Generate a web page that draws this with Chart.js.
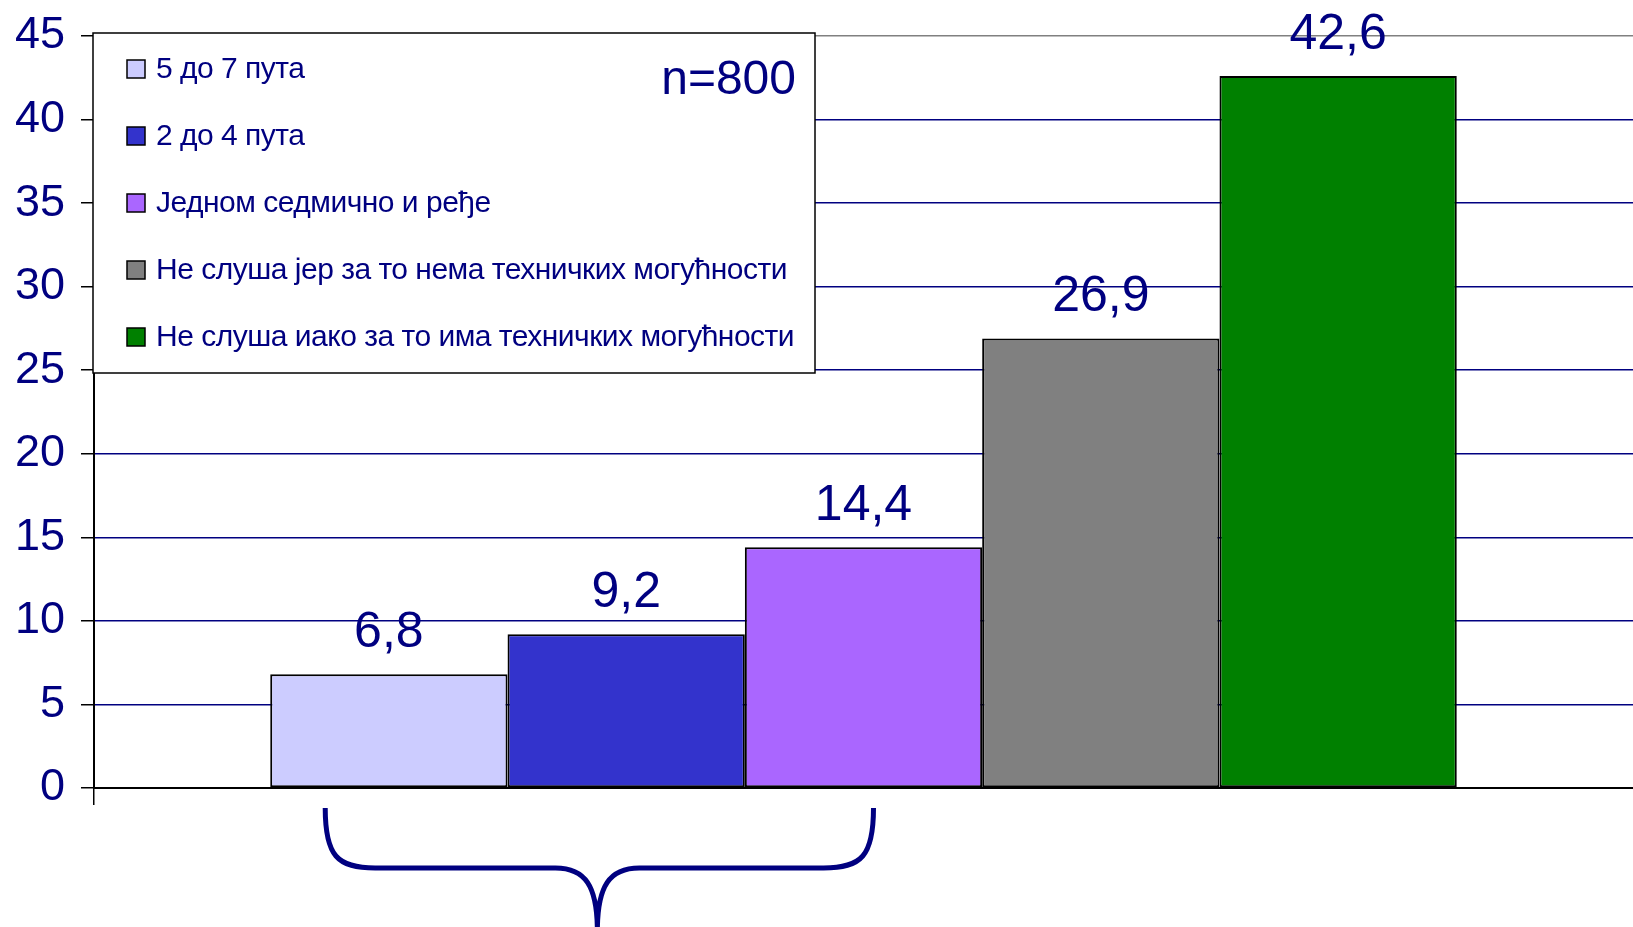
<!DOCTYPE html>
<html>
<head>
<meta charset="utf-8">
<script src="https://cdn.jsdelivr.net/npm/chart.js@4/dist/chart.umd.min.js"></script>
<style>
  html, body { margin: 0; padding: 0; background: #fff; }
  #wrap { width: 1633px; height: 927px; position: relative; }
</style>
</head>
<body>
<div id="wrap"><canvas id="chart"></canvas></div>
<script>
const categories = [""];
const seriesNames = [
  "5 до 7 пута",
  "2 до 4 пута",
  "Једном седмично и ређе",
  "Не слуша јер за то нема техничких могућности",
  "Не слуша иако за то има техничких могућности"
];
const seriesValues = [6.8, 9.2, 14.4, 26.9, 42.6];
const seriesColors = ["#ccccff", "#3333cc", "#aa66ff", "#808080", "#008000"];
const yMin = 0;
const yMax = 45;
const yStep = 5;
const sampleNote = "n=800";

const NAVY = "#000080";
const FONT = "'Liberation Sans', Arial, sans-serif";

// legend box drawn inside the plot, over the grid
const legendBox = {
  id: "legendBox",
  afterDatasetsDraw(chart) {
    const ctx = chart.ctx;
    const left = chart.chartArea.left - 1;
    const top = chart.chartArea.top - 3;
    ctx.save();
    ctx.fillStyle = "#fff";
    ctx.fillRect(left, top, 722, 340);
    ctx.strokeStyle = "#000";
    ctx.lineWidth = 1.5;
    ctx.strokeRect(left, top, 722, 340);

    ctx.font = "30px " + FONT;
    ctx.letterSpacing = "-0.5px";
    ctx.textBaseline = "middle";
    ctx.textAlign = "left";
    chart.data.datasets.forEach((ds, i) => {
      const cy = top + 36 + i * 67;
      ctx.fillStyle = ds.backgroundColor;
      ctx.fillRect(left + 34, cy - 9, 18, 18);
      ctx.strokeStyle = "#000";
      ctx.lineWidth = 1.5;
      ctx.strokeRect(left + 34, cy - 9, 18, 18);
      ctx.fillStyle = NAVY;
      ctx.fillText(ds.label, left + 63, cy + 1);
    });

    ctx.font = "48px " + FONT;
    ctx.letterSpacing = "0px";
    ctx.textAlign = "right";
    ctx.textBaseline = "alphabetic";
    ctx.fillText(sampleNote, left + 703, top + 61);
    ctx.restore();
  }
};

// value above each bar
const valueLabels = {
  id: "valueLabels",
  afterDatasetsDraw(chart) {
    const ctx = chart.ctx;
    ctx.save();
    ctx.font = "50px " + FONT;
    ctx.fillStyle = NAVY;
    ctx.textAlign = "center";
    ctx.textBaseline = "alphabetic";
    chart.data.datasets.forEach((ds, i) => {
      const bar = chart.getDatasetMeta(i).data[0];
      ctx.fillText(String(ds.data[0]).replace(".", ","), bar.x, bar.y - 27);
    });
    ctx.restore();
  }
};

// curly brace under the first three bars
const brace = {
  id: "brace",
  afterDraw(chart) {
    const first = chart.getDatasetMeta(0).data[0];
    const third = chart.getDatasetMeta(2).data[0];
    const L = first.x - first.width / 2 + 55;
    const R = third.x + 10;
    const C = (L + R) / 2 - 2;
    const top = chart.chartArea.bottom + 20;
    const H = top + 60;
    const bottom = chart.height + 4;
    const ctx = chart.ctx;
    ctx.save();
    ctx.strokeStyle = NAVY;
    ctx.lineWidth = 5;
    ctx.beginPath();
    ctx.moveTo(L, top);
    ctx.bezierCurveTo(L, top + 48, L + 12, H, L + 50, H);
    ctx.lineTo(C - 42, H);
    ctx.bezierCurveTo(C - 12, H, C, H + 18, C, bottom);
    ctx.moveTo(R, top);
    ctx.bezierCurveTo(R, top + 48, R - 12, H, R - 50, H);
    ctx.lineTo(C + 42, H);
    ctx.bezierCurveTo(C + 12, H, C, H + 18, C, bottom);
    ctx.stroke();
    ctx.restore();
  }
};

const ctx = document.getElementById("chart").getContext("2d");
const chart = new Chart(ctx, {
  type: "bar",
  data: {
    labels: categories,
    datasets: seriesNames.map((name, i) => ({
      label: name,
      data: [seriesValues[i]],
      backgroundColor: seriesColors[i],
      borderColor: "#000",
      borderWidth: 2,
      borderSkipped: false
    }))
  },
  options: {
    responsive: true,
    maintainAspectRatio: false,
    animation: false,
    layout: { padding: { top: 36, right: 0, bottom: 122, left: 0 } },
    datasets: {
      bar: { categoryPercentage: 0.771, barPercentage: 1.0 }
    },
    plugins: {
      legend: { display: false },
      tooltip: { enabled: false }
    },
    scales: {
      x: {
        ticks: { display: false },
        grid: {
          drawOnChartArea: false,
          drawTicks: true,
          tickLength: 17,
          color: c => (c.index === 0 ? "#000" : "rgba(0,0,0,0)"),
          lineWidth: 1.5
        },
        border: { color: "#000", width: 2 }
      },
      y: {
        min: yMin,
        max: yMax,
        afterFit(scale) {
          scale.width = 94;
          // let the layout padding alone decide where the plot starts
          scale.paddingTop = 0;
          scale.paddingBottom = 0;
        },
        ticks: {
          stepSize: yStep,
          color: NAVY,
          padding: 16,
          font: { family: FONT, size: 45 }
        },
        grid: {
          color: c => (c.tick && c.tick.value === yMax ? "#808080" : NAVY),
          lineWidth: 1.5,
          tickLength: 13,
          tickColor: "#000"
        },
        border: { color: "#000", width: 2 }
      }
    }
  },
  plugins: [legendBox, valueLabels, brace]
});
</script>
</body>
</html>
